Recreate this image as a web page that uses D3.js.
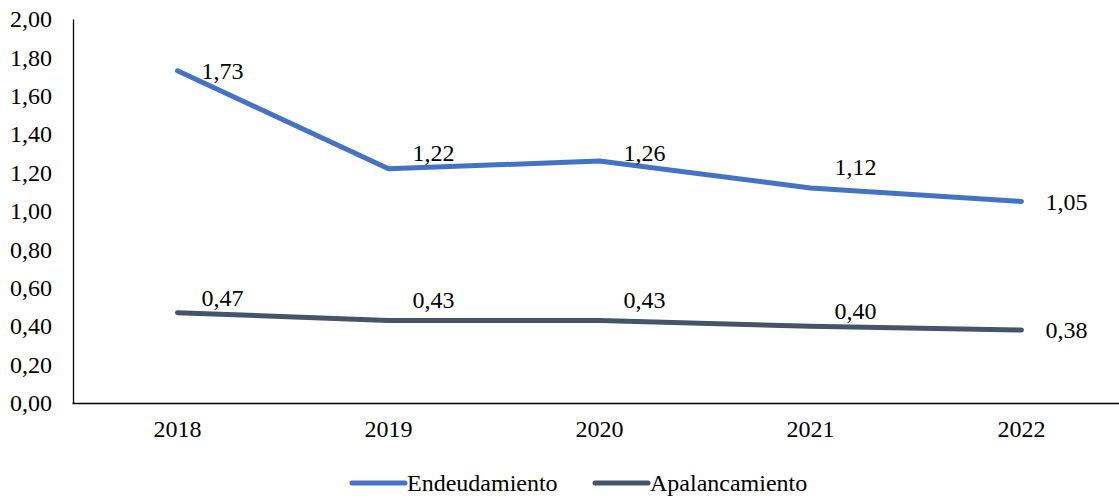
<!DOCTYPE html>
<html>
<head>
<meta charset="utf-8">
<script src="https://cdn.jsdelivr.net/npm/d3@7"></script>
<style>
  html, body { margin: 0; padding: 0; background: #fff; }
</style>
</head>
<body>
<svg id="chart" width="1119" height="498"></svg>
<script>
const years = ["2018", "2019", "2020", "2021", "2022"];
const endeudamiento = [1.73, 1.22, 1.26, 1.12, 1.05];
const apalancamiento = [0.47, 0.43, 0.43, 0.40, 0.38];
const yTicks = [0, 0.2, 0.4, 0.6, 0.8, 1.0, 1.2, 1.4, 1.6, 1.8, 2.0];
const seriesNames = ["Endeudamiento", "Apalancamiento"];
const seriesColors = ["#4472C4", "#44546A"];

// vertical nudges for the value labels (pixels, relative to the point)
const endLabelDy = [0, -16, -8, -21, 0];
const apaLabelDy = [-15, -21, -21, -16, 0];

const FONT = 24;
const FAMILY = "'Liberation Serif', 'Times New Roman', serif";
const fmt = v => d3.format(".2f")(v).replace(".", ",");

const svg = d3.select("#chart");
const x = d3.scaleBand().domain(years).range([72, 1127]);
const y = d3.scaleLinear().domain([0, 2]).range([403, 19]);

// y axis
const yAxis = svg.append("g").attr("transform", "translate(73,0)")
  .call(d3.axisLeft(y).tickValues(yTicks).tickSize(0).tickPadding(21).tickFormat(fmt));
yAxis.select(".domain").attr("stroke", "#000").attr("stroke-width", 1.3);
yAxis.selectAll("text").attr("font-size", FONT).attr("fill", "#000").style("font-family", FAMILY);

// x axis
const xAxis = svg.append("g").attr("transform", "translate(0,403)")
  .call(d3.axisBottom(x).tickSize(0).tickPadding(17));
xAxis.select(".domain").attr("stroke", "#000").attr("stroke-width", 1.3);
xAxis.selectAll("text").attr("font-size", FONT).attr("fill", "#000").style("font-family", FAMILY);

const line = d3.line()
  .x((d, i) => x(years[i]) + x.bandwidth() / 2)
  .y(d => y(d));

const series = [
  { values: endeudamiento, color: seriesColors[0], dy: endLabelDy },
  { values: apalancamiento, color: seriesColors[1], dy: apaLabelDy }
];

series.forEach(s => {
  svg.append("path")
    .datum(s.values)
    .attr("fill", "none")
    .attr("stroke", s.color)
    .attr("stroke-width", 5)
    .attr("stroke-linecap", "round")
    .attr("stroke-linejoin", "round")
    .attr("d", line);

  svg.append("g").selectAll("text")
    .data(s.values)
    .join("text")
    .attr("x", (d, i) => x(years[i]) + x.bandwidth() / 2 + 45)
    .attr("y", (d, i) => y(d) + s.dy[i])
    .attr("dy", "0.35em")
    .attr("text-anchor", "middle")
    .attr("font-size", FONT)
    .attr("fill", "#000")
    .style("font-family", FAMILY)
    .text(d => fmt(d));
});

// legend
const legendX = [352, 595];
const legend = svg.append("g");
seriesNames.forEach((name, i) => {
  legend.append("line")
    .attr("x1", legendX[i]).attr("x2", legendX[i] + 53)
    .attr("y1", 483).attr("y2", 483)
    .attr("stroke", seriesColors[i])
    .attr("stroke-width", 5)
    .attr("stroke-linecap", "round");
  legend.append("text")
    .attr("x", legendX[i] + 55)
    .attr("y", 483)
    .attr("dy", "0.35em")
    .attr("font-size", FONT)
    .attr("fill", "#000")
    .style("font-family", FAMILY)
    .text(name);
});
</script>
</body>
</html>
